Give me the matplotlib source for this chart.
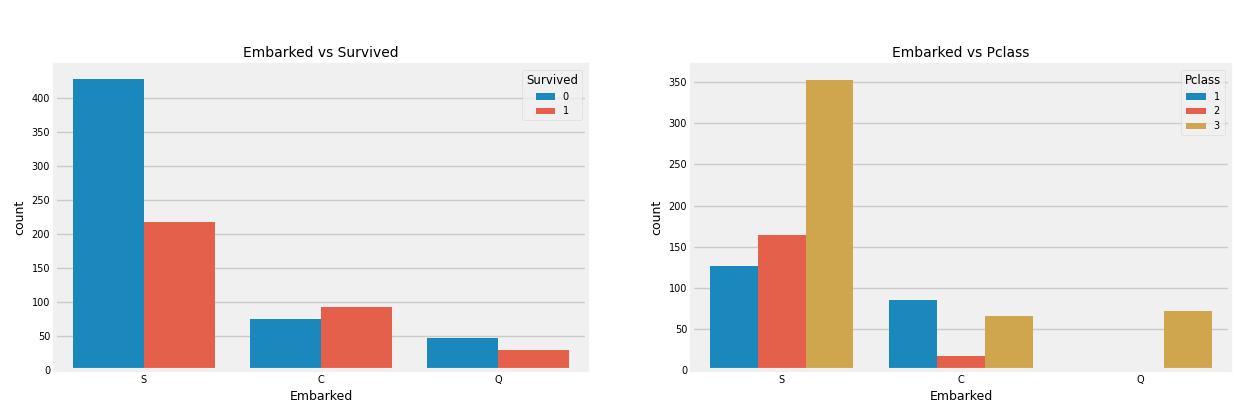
import matplotlib
matplotlib.use('Agg')
import matplotlib.pyplot as plt
import numpy as np

plt.style.use('fivethirtyeight')

embarked = ['S', 'C', 'Q']
survived_labels = ['0', '1']
survived_counts = [[427, 75, 47], [217, 93, 30]]
pclass_labels = ['1', '2', '3']
pclass_counts = [[127, 85, 2], [164, 17, 3], [353, 66, 72]]

colors = ['#1a88bd', '#e5604a', '#cfa54d']

fig = plt.figure(figsize=(12.41, 4.08), dpi=100)
ax1 = fig.add_axes([55/1241, 1-370/408, 532/1241, 305/408])
ax2 = fig.add_axes([692/1241, 1-370/408, 538/1241, 305/408])


def draw(ax, counts, labels, title, legend_title, ticks):
    n = len(counts)
    w = 0.8 / n
    x = np.arange(len(embarked))
    for i, vals in enumerate(counts):
        ax.bar(x - 0.4 + w/2 + i*w, vals, w, color=colors[i], label=labels[i],
               linewidth=0)
    ax.set_xticks(x)
    ax.set_xticklabels(embarked)
    ax.set_yticks(ticks)
    ax.set_xlim(-0.5, len(embarked) - 0.5)
    ax.grid(axis='x', visible=False)
    ax.set_title(title, fontsize=10)
    ax.set_xlabel('Embarked', fontsize=9)
    ax.set_ylabel('count', fontsize=9)
    ax.tick_params(labelsize=7)
    leg = ax.legend(title=legend_title, fontsize=7, title_fontsize=8.5,
                    loc='upper right', handlelength=2, frameon=True)
    leg.get_frame().set_facecolor('#f0f0f0')
    leg.get_frame().set_edgecolor('#d8d8d8')


draw(ax1, survived_counts, survived_labels, 'Embarked vs Survived', 'Survived',
     range(0, 401, 50))
draw(ax2, pclass_counts, pclass_labels, 'Embarked vs Pclass', 'Pclass',
     range(0, 351, 50))
ax1.set_ylim(0, 448)
ax2.set_ylim(0, 371)

fig.patch.set_facecolor('white')
fig.savefig('out.png', dpi=100, facecolor='white')
